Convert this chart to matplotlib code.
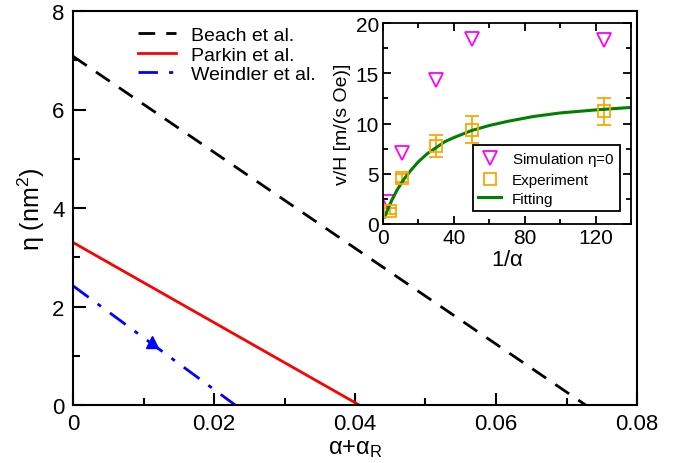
import numpy as np
import matplotlib.pyplot as plt
from matplotlib.ticker import MultipleLocator
from matplotlib.lines import Line2D

plt.rcParams['font.family'] = ['Liberation Sans', 'DejaVu Sans']
plt.rcParams['mathtext.fontset'] = 'custom'
plt.rcParams['mathtext.rm'] = 'Liberation Sans'
plt.rcParams['mathtext.it'] = 'Liberation Sans'

beach_x = [0.0, 0.0727]
beach_y = [7.08, 0.0]
parkin_x = [0.0, 0.0406]
parkin_y = [3.30, 0.0]
weindler_x = [0.0, 0.0230]
weindler_y = [2.42, 0.0]
arrow_x = [0.0112]
arrow_y = [1.27]

# inset: v/H vs 1/alpha
sim_x = [3, 11, 30, 50, 125]
sim_y = [2.2, 7.1, 14.3, 18.4, 18.3]
exp_x = [4, 11, 30, 50, 125]
exp_y = [1.3, 4.6, 7.8, 9.4, 11.2]
exp_err = [0.3, 0.4, 1.1, 1.35, 1.3]
fit_x = [1, 3, 5, 8, 12, 16, 20, 25, 30, 35, 40, 50, 60, 70, 85, 100, 120, 140]
fit_y = [0.7, 1.6, 2.4, 3.4, 4.5, 5.4, 6.2, 7.0, 7.6, 8.2, 8.6, 9.3, 9.8, 10.2,
         10.7, 11.05, 11.35, 11.6]

fig = plt.figure(figsize=(6.77, 4.64), dpi=100)
W, H = 677.0, 464.0
ax = fig.add_axes([73 / W, 1 - 406 / H, (637 - 73) / W, (406 - 12) / H])

ax.plot(beach_x, beach_y, color='black', lw=2, dashes=(6, 4), label='Beach et al.')
ax.plot(parkin_x, parkin_y, color='red', lw=2, label='Parkin et al.')
ax.plot(weindler_x, weindler_y, color='blue', lw=2, dashes=(7, 4, 1.5, 4),
        label='Weindler et al.')
ax.plot(arrow_x, arrow_y, linestyle='none', marker='^', color='blue', ms=9)

ax.set_xlim(0, 0.08)
ax.set_ylim(0, 8)
ax.xaxis.set_major_locator(MultipleLocator(0.02))
ax.xaxis.set_minor_locator(MultipleLocator(0.01))
ax.yaxis.set_major_locator(MultipleLocator(2))
ax.yaxis.set_minor_locator(MultipleLocator(1))
ax.xaxis.set_major_formatter(plt.FuncFormatter(lambda v, p: '0' if v == 0 else '%g' % v))
ax.tick_params(which='major', direction='in', length=9, width=1.5, labelsize=16, pad=6)
ax.tick_params(which='minor', direction='in', length=5, width=1.5)
for s in ax.spines.values():
    s.set_linewidth(1.5)
ax.set_xlabel(r'$\alpha$+$\alpha_\mathrm{R}$', fontsize=17, labelpad=2)
ax.set_ylabel(r'$\eta$ (nm$^2$)', fontsize=18, labelpad=4)

leg = ax.legend(loc='upper left', bbox_to_anchor=(0.085, 1.005), frameon=False,
                fontsize=14, handlelength=1.95, handletextpad=0.75, labelspacing=0.1)

# inset
ins = fig.add_axes([383 / W, 1 - 225 / H, (631 - 383) / W, (225 - 24) / H])
ins.plot(sim_x, sim_y, linestyle='none', marker='v', ms=10, mfc='none',
         mec='magenta', mew=1.3)
ins.errorbar(exp_x, exp_y, yerr=exp_err, fmt='s', ms=9, mfc='none', mec='orange',
             mew=1.3, ecolor='orange', elinewidth=1.3, capsize=5, capthick=1.3)
ins.plot(fit_x, fit_y, color='green', lw=2.2)

ins.set_xlim(0, 140)
ins.set_ylim(0, 20)
ins.xaxis.set_major_locator(MultipleLocator(40))
ins.xaxis.set_minor_locator(MultipleLocator(20))
ins.yaxis.set_major_locator(MultipleLocator(5))
ins.yaxis.set_minor_locator(MultipleLocator(2.5))
ins.tick_params(which='both', direction='in', top=True, right=True, width=1.3)
ins.tick_params(which='major', length=6, labelsize=15, pad=3)
ins.tick_params(which='minor', length=3.5)
for s in ins.spines.values():
    s.set_linewidth(1.3)
ins.set_xlabel(r'1/$\alpha$', fontsize=16, labelpad=1)
ins.set_ylabel('v/H [m/(s Oe)]', fontsize=14, labelpad=3)

handles = [
    Line2D([], [], linestyle='none', marker='v', ms=10, mfc='none', mec='magenta', mew=1.3),
    Line2D([], [], linestyle='none', marker='s', ms=9, mfc='none', mec='orange', mew=1.3),
    Line2D([], [], color='green', lw=2.2),
]
labels = [r'Simulation $\eta$=0', 'Experiment', 'Fitting']
ileg = ins.legend(handles, labels, loc='lower right', bbox_to_anchor=(0.955, 0.065),
                  fontsize=11, fancybox=False, edgecolor='black', framealpha=1,
                  borderpad=0.35, labelspacing=0.3, handlelength=1.5,
                  handletextpad=0.7, borderaxespad=0)
ileg.get_frame().set_linewidth(1.3)

fig.savefig('out.png', dpi=100)
